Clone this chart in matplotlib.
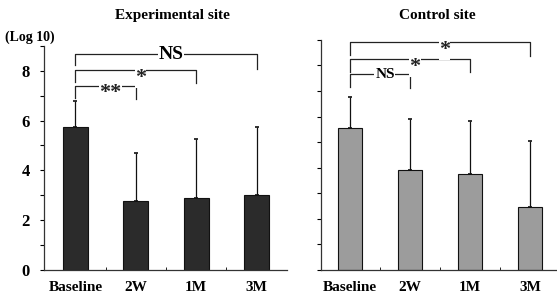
import matplotlib
matplotlib.use('Agg')
import matplotlib.pyplot as plt
import numpy as np

# bacterial counts (log10)
cats = ['Baseline', '2W', '1M', '3M']
exp_mean = [5.76, 2.77, 2.90, 3.03]
exp_top = [6.80, 4.70, 5.28, 5.73]
ctrl_mean = [5.56, 3.90, 3.75, 2.47]
ctrl_top = [6.76, 5.92, 5.82, 5.06]

# significance brackets: (from, to, line height, left leg end, right leg end, label)
exp_brackets = [(0, 3, 8.67, 8.24, 8.08, 'NS'),
                (0, 2, 8.03, 7.56, 7.52, '*'),
                (0, 1, 7.40, 6.92, 6.85, '**')]
ctrl_brackets = [(0, 3, 8.92, 8.43, 8.39, '*'),
                 (0, 2, 8.26, 7.74, 7.74, '*'),
                 (0, 1, 7.65, 7.14, 7.10, 'NS')]

plt.rcParams['font.family'] = 'Liberation Serif'
plt.rcParams['font.weight'] = 'bold'

fig = plt.figure(figsize=(5.57, 2.98), dpi=100)
ax1 = fig.add_axes([0.079, 0.094, 0.436, 0.752])
ax2 = fig.add_axes([0.576, 0.094, 0.424, 0.772])


def panel(ax, mean, top, brackets, color, xlim, labels=True, fs=12, sfs=15):
    x = np.arange(len(cats))
    mean = np.array(mean)
    err = np.array(top) - mean
    ax.bar(x, mean, width=0.41, color=color, edgecolor='#111111', linewidth=0.8, zorder=2)
    ax.errorbar(x, mean, yerr=[np.zeros_like(err), err], fmt='none',
                ecolor='#111111', elinewidth=0.9, capsize=1.5, capthick=1.2, zorder=1)
    ax.set_xlim(*xlim)
    ax.set_ylim(0, 9)
    for s in ['top', 'right']:
        ax.spines[s].set_visible(False)
    for s in ['left', 'bottom']:
        ax.spines[s].set_color('#333333')
        ax.spines[s].set_linewidth(0.9)
    ax.set_xticks(x)
    ax.set_xticklabels(cats, fontsize=11, fontweight='bold')
    ax.set_xticks([0.5, 1.5, 2.5], minor=True)
    ax.tick_params(axis='x', which='major', length=0, pad=8)
    ax.tick_params(axis='x', which='minor', length=2, direction='in')
    ax.set_yticks([0, 2, 4, 6, 8])
    ax.set_yticks([1, 3, 5, 7, 9], minor=True)
    ax.tick_params(axis='y', which='both', length=3, direction='out', width=0.8)
    if labels:
        ax.set_yticklabels(['0', '2', '4', '6', '8'], fontsize=12, fontweight='bold')
        ax.tick_params(axis='y', pad=7)
    else:
        ax.set_yticklabels([])
    for i, j, yl, l1, l2, lab in brackets:
        ax.plot([i, i, j, j], [l1, yl, yl, l2], color='#222222', lw=0.9, clip_on=False)
        xm = (i + j) / 2 + 0.08
        if '*' in lab:
            ax.text(xm, yl - 0.3, lab, ha='center', va='center', fontsize=sfs,
                    fontweight='bold', clip_on=False, color='#222222',
                    bbox=dict(facecolor='white', edgecolor='none', pad=0.0))
        else:
            ax.text(xm, yl, lab, ha='center', va='center', fontsize=fs,
                    fontweight='bold', clip_on=False,
                    bbox=dict(facecolor='white', edgecolor='none', pad=0.5))


panel(ax1, exp_mean, exp_top, exp_brackets, '#2b2b2b', (-0.52, 3.5), labels=True, fs=14, sfs=16)
panel(ax2, ctrl_mean, ctrl_top, ctrl_brackets, '#9c9c9c', (-0.49, 3.45), labels=False, fs=11, sfs=16)

fig.text(0.309, 0.947, 'Experimental site', fontsize=11, fontweight='bold', ha='center', va='center')
fig.text(0.786, 0.947, 'Control site', fontsize=11, fontweight='bold', ha='center', va='center')
fig.text(0.009, 0.875, '(Log 10)', fontsize=10, fontweight='bold', va='center')

fig.savefig('out.png', dpi=100)
